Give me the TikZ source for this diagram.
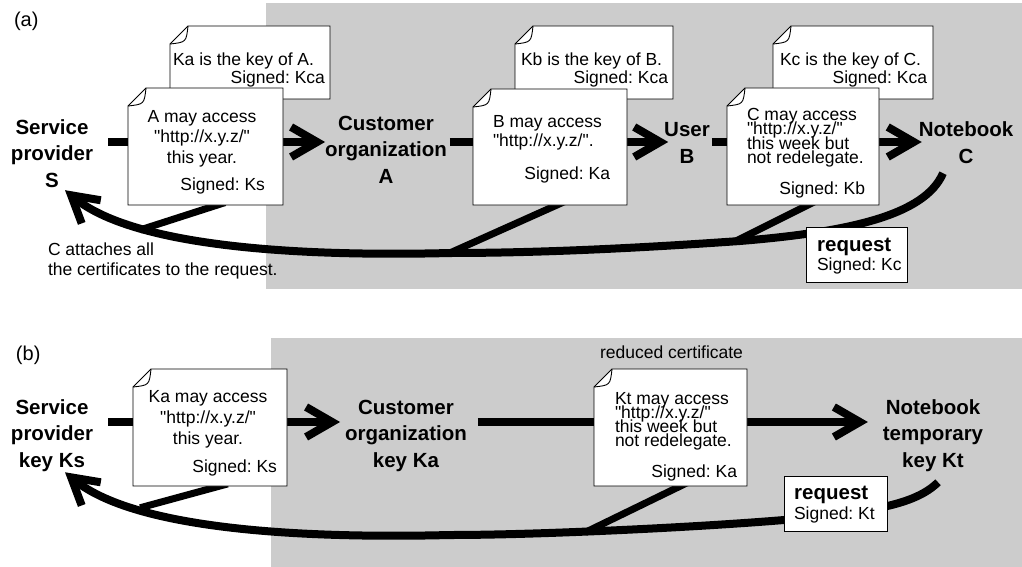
\documentclass[tikz,border=0pt]{standalone}
\usepackage{fontspec}
\setmainfont{Liberation Sans}[Ligatures=TeXOff]
\usetikzlibrary{arrows.meta,calc}
\definecolor{panelgray}{HTML}{CCCCCC}
\frenchspacing
\lineskiplimit=-30pt
\pgfdeclarelayer{bg}
\pgfdeclarelayer{lines}
\pgfsetlayers{bg,lines,main}
\newcommand\foldsize{18}
% certificate sheet with a folded top-left corner: name, north-west corner, width, height
\newcommand\certnote[4]{%
  \node[certframe, minimum width=#3, minimum height=#4, anchor=north west] (#1) at (#2) {};
  \draw[certline, fill=white] ($(#1.north west)+(0,\foldsize)$) -- ($(#1.north west)+(\foldsize,0)$)
    -- (#1.north east) -- (#1.south east) -- (#1.south west) -- cycle;
  \draw[certline] ($(#1.north west)+(\foldsize,0)$) .. controls ($(#1.north west)+(0.9*\foldsize,0.9*\foldsize)$) .. ($(#1.north west)+(0,\foldsize)$);
}
\begin{document}
\begin{tikzpicture}[x=1pt,y=-1pt,
  txt/.style={font=\fontsize{17.5}{21}\selectfont, inner sep=0pt, outer sep=0pt},
  tag/.style={font=\fontsize{20}{24}\selectfont, inner sep=0pt, outer sep=0pt},
  tight/.style={font=\fontsize{17.5}{14.3}\selectfont, inner sep=0pt, outer sep=0pt},
  lbl/.style={font=\fontsize{20.5}{26.5}\selectfont\bfseries, align=center, inner sep=0pt, outer sep=0pt},
  reqhead/.style={font=\fontsize{20.5}{24}\selectfont\bfseries, inner sep=0pt},
  certframe/.style={inner sep=0pt, outer sep=0pt},
  certline/.style={draw=black, line width=0.9pt, line join=miter},
  reqbox/.style={draw=black, line width=0.9pt, fill=white, inner sep=0pt, outer sep=0pt},
  flow/.style={line width=8pt, -{Straight Barb[length=26pt,width=30pt]}},
  branch/.style={line width=7pt, shorten <=-8pt, shorten >=-3pt}
]
\useasboundingbox (0,0) rectangle (1022,567);
\begin{pgfonlayer}{bg}
\fill[panelgray] (266,3) rectangle (1022,289);
\fill[panelgray] (271,338) rectangle (1022,567);
\end{pgfonlayer}

% ---------- panel (a) ----------
\node[tag, anchor=base west] (taga) at (14,27) {(a)};
\node[lbl, anchor=base] (Sa) at (52,187) {Service\\provider\\S};
\node[lbl, anchor=base] (Aa) at (386,183) {Customer\\organization\\A};
\node[lbl, anchor=base] (Ba) at (687,163) {User\\B};
\node[lbl, anchor=base] (Ca) at (966,163) {Notebook\\C};
\coordinate (rowa) at (0,142);

\node[txt, anchor=base west, align=left, font=\fontsize{17.5}{20}\selectfont] (attach) at (48,275.5)
  {C attaches all\\the certificates to the request.};

\certnote{certKa}{170,26}{160pt}{73pt}
\node[txt, anchor=base west] (certKatxt) at (173,66) {Ka is the key of A.};
\node[txt, anchor=base east] (certKasig) at (325,84) {Signed: Kca};

\certnote{certKb}{515,26}{158pt}{73pt}
\node[txt, anchor=base west] (certKbtxt) at (521,66) {Kb is the key of B.};
\node[txt, anchor=base east] (certKbsig) at (668,84) {Signed: Kca};

\certnote{certKc}{773,26}{160pt}{73pt}
\node[txt, anchor=base west] (certKctxt) at (780,66) {Kc is the key of C.};
\node[txt, anchor=base east] (certKcsig) at (927,84) {Signed: Kca};

\certnote{certA}{128,88}{155pt}{117pt}
\node[txt, anchor=base, align=center] (certAtxt) at (202,164) {A may access\\"http://x.y.z/"\\this year.};
\node[txt, anchor=base east] (certAsig) at (265,190.5) {Signed: Ks};

\certnote{certB}{473,89}{154pt}{116pt}
\node[txt, anchor=base west, align=left, font=\fontsize{17.5}{19}\selectfont] (certBtxt) at (493,146.5) {B may access\\"http://x.y.z/".};
\node[txt, anchor=base east] (certBsig) at (610,179.5) {Signed: Ka};

\certnote{certC}{727,88}{152pt}{117pt}
\node[tight, anchor=base west, align=left] (certCtxt) at (747,163.4) {C may access\\"http://x.y.z/"\\this week but\\not redelegate.};
\node[txt, anchor=base east] (certCsig) at (865,194.5) {Signed: Kb};

\node[reqbox, minimum width=101pt, minimum height=55pt, anchor=north west] (reqa) at (806,227) {};
\node[reqhead, anchor=base west] (reqahead) at (817,251) {request};
\node[txt, anchor=base west] (reqasig) at (817,270) {Signed: Kc};

\begin{pgfonlayer}{lines}
\draw[flow] ([xshift=15pt]Sa.east |- rowa) -- ([xshift=0pt]Aa.west |- rowa);
\draw[flow] ([xshift=3pt]Aa.east |- rowa) -- ([xshift=4pt]Ba.west |- rowa);
\draw[flow] ([xshift=2pt]Ba.east |- rowa) -- ([xshift=3pt]Ca.west |- rowa);
% request travelling back from C to S
\draw[flow] ($(Ca.south)+(-23,10)$) .. controls (925,215) and (850,232) .. (740,241)
  .. controls (640,248) and (540,253) .. (450,253)
  .. controls (330,256) and (140,252) .. ($(Sa.south)+(13,3)$);
\coordinate (ja1) at (143,229);
\coordinate (ja2) at (452,252);
\coordinate (ja3) at (738,240);
\draw[branch] ([xshift=12pt]certA.south) -- (ja1);
\draw[branch] ([xshift=7pt]certB.south) -- (ja2);
\draw[branch] ([xshift=5pt]certC.south) -- (ja3);
\end{pgfonlayer}

% ---------- panel (b) ----------
\node[tag, anchor=base west] (tagb) at (16,360) {(b)};
\node[lbl, anchor=base] (Sb) at (52,467) {Service\\provider\\key Ks};
\node[lbl, anchor=base] (Ab) at (406,467) {Customer\\organization\\key Ka};
\node[lbl, anchor=base] (Cb) at (933,467) {Notebook\\temporary\\key Kt};
\coordinate (rowb) at (0,422);

\node[txt, anchor=base] (reduced) at (671.5,358) {reduced certificate};

\certnote{certKab}{133,369}{154pt}{117pt}
\node[txt, anchor=base, align=center] (certKabtxt) at (208,444.5) {Ka may access\\"http://x.y.z/"\\this year.};
\node[txt, anchor=base east] (certKabsig) at (277,472.5) {Signed: Ks};

\certnote{certKt}{594,369}{153pt}{117pt}
\node[tight, anchor=base west, align=left, font=\fontsize{17.5}{14}\selectfont] (certKttxt) at (615,446.5) {Kt may access\\"http://x.y.z/"\\this week but\\not redelegate.};
\node[txt, anchor=base east] (certKtsig) at (737,477.5) {Signed: Ka};

\node[reqbox, minimum width=103pt, minimum height=55pt, anchor=north west] (reqb) at (784,476) {};
\node[reqhead, anchor=base west] (reqbhead) at (794,499) {request};
\node[txt, anchor=base west] (reqbsig) at (794,519.5) {Signed: Kt};

\begin{pgfonlayer}{lines}
\draw[flow] ([xshift=15pt]Sb.east |- rowb) -- ([xshift=-5pt]Ab.west |- rowb);
\draw[flow] ([xshift=11pt]Ab.east |- rowb) -- ([xshift=-15pt]Cb.west |- rowb);
\draw[flow] ($(Cb.south)+(5,11)$) .. controls (915,505) and (870,512) .. (784,520)
  .. controls (700,527) and (540,535) .. (450,535)
  .. controls (330,538) and (140,534) .. ($(Sb.south)+(13,1)$);
\coordinate (jb1) at (143,507);
\coordinate (jb2) at (588,531);
\draw[branch] ([xshift=10pt]certKab.south) -- (jb1);
\draw[branch] ([xshift=10pt]certKt.south) -- (jb2);
\end{pgfonlayer}
\end{tikzpicture}
\end{document}
